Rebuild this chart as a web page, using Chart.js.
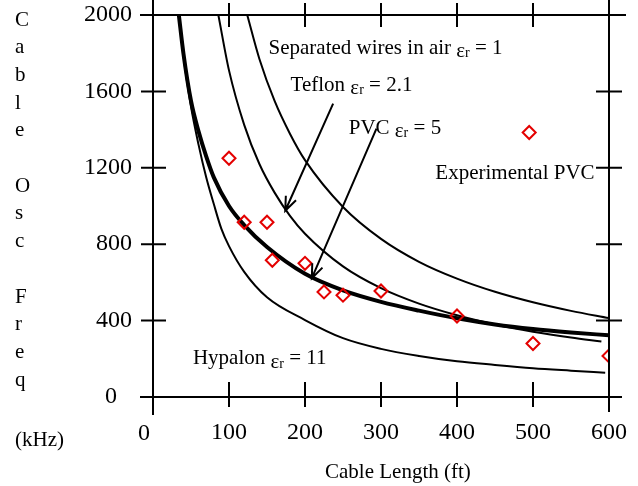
<!DOCTYPE html>
<html>
<head>
<meta charset="utf-8">
<script src="https://cdn.jsdelivr.net/npm/chart.js@4.4.0/dist/chart.umd.min.js"></script>
<style>
  html, body { margin: 0; padding: 0; background: #fff; }
</style>
</head>
<body>
<canvas id="grafico" width="638" height="486"></canvas>
<script>
//..........DADOS..........
var xTicks = [0, 100, 200, 300, 400, 500, 600];
var yTicks = [0, 400, 800, 1200, 1600, 2000];

// Separated wires in air (er = 1)
var arLen  = [124, 140, 160, 180, 200, 250, 300, 350, 400, 450, 500, 550, 600];
var arFreq = [2000, 1770, 1550, 1380, 1240, 995, 828, 708, 620, 551, 496, 451, 413];

// Teflon (er = 2.1)
var teflonLen  = [86, 100, 120, 140, 160, 180, 200, 250, 300, 350, 400, 450, 500, 550, 590];
var teflonFreq = [2000, 1710, 1425, 1220, 1070, 950, 855, 684, 570, 489, 428, 380, 342, 311, 290];

// PVC (er = 5), curva grossa
var pvcLen  = [34, 40, 50, 60, 70, 80, 100, 120, 150, 200, 250, 300, 350, 400, 450, 500, 550, 600];
var pvcFreq = [2000, 1800, 1550, 1390, 1260, 1150, 1000, 900, 785, 645, 558, 498, 452, 412, 380, 356, 338, 323];

// Hypalon (er = 11)
var hypLen  = [34, 40, 50, 60, 70, 80, 90, 100, 120, 150, 200, 250, 300, 350, 400, 450, 500, 550, 595];
var hypFreq = [2000, 1790, 1520, 1320, 1150, 1010, 880, 790, 655, 522, 403, 308, 252, 215, 187, 168, 151, 138, 127];

// Experimental PVC
var expLen  = [100, 120, 150, 157, 200, 225, 250, 300, 400, 500, 600, 495];
var expFreq = [1250, 915, 915, 716, 700, 550, 533, 555, 424, 280, 215, 1385];

var fonte = '"Liberation Serif", "Times New Roman", serif';

function pontos(xs, ys) {
    return xs.map(function(x, i) { return { x: x, y: ys[i] }; });
}

function curva(xs, ys, largura) {
    return {
        data: pontos(xs, ys),
        borderColor: '#000',
        borderWidth: largura,
        pointRadius: 0,
        fill: false,
        cubicInterpolationMode: 'monotone'
    };
}

//..........MOLDURA, SETAS E TEXTOS..........
function rotulo(c, txt, val, x, y) {
    c.textAlign = 'left';
    c.textBaseline = 'alphabetic';
    c.font = '21px ' + fonte;
    c.fillText(txt, x, y);
    x += c.measureText(txt).width;
    c.fillText('\u03b5', x, y + 3.5);
    x += c.measureText('\u03b5').width;
    c.font = '14px ' + fonte;
    c.fillText('r', x, y + 3.5);
    x += c.measureText('r').width;
    c.font = '21px ' + fonte;
    c.fillText(' = ' + val, x, y);
}

function seta(c, x0, y0, x1, y1) {
    var ang = Math.atan2(y1 - y0, x1 - x0);
    var tam = 15, abre = 0.38;
    c.beginPath();
    c.moveTo(x0, y0);
    c.lineTo(x1, y1);
    c.moveTo(x1 - tam * Math.cos(ang - abre), y1 - tam * Math.sin(ang - abre));
    c.lineTo(x1, y1);
    c.lineTo(x1 - tam * Math.cos(ang + abre), y1 - tam * Math.sin(ang + abre));
    c.stroke();
}

var moldura = {
    id: 'moldura',
    afterDraw: function(chart) {
        var c = chart.ctx, xs = chart.scales.x, ys = chart.scales.y;
        var esq = xs.getPixelForValue(0), dir = xs.getPixelForValue(600);
        var topo = ys.getPixelForValue(2000), base = ys.getPixelForValue(0);
        function px(v) { return xs.getPixelForValue(v); }
        function py(v) { return ys.getPixelForValue(v); }

        c.save();
        c.strokeStyle = '#000';
        c.fillStyle = '#000';
        c.lineWidth = 2;
        c.beginPath();
        c.moveTo(esq, 0); c.lineTo(esq, base + 18);
        c.moveTo(dir, 0); c.lineTo(dir, base + 15);
        c.moveTo(esq - 13, topo); c.lineTo(dir + 17, topo);
        c.moveTo(esq - 13, base); c.lineTo(dir + 12, base);
        xTicks.forEach(function(v) {
            var p = px(v);
            c.moveTo(p, base - 15); c.lineTo(p, base + 10);
            c.moveTo(p, topo - 12); c.lineTo(p, topo + 12);
        });
        yTicks.forEach(function(v) {
            var p = py(v);
            c.moveTo(esq - 12, p); c.lineTo(esq + 13, p);
            c.moveTo(dir - 13, p); c.lineTo(dir + 13, p);
        });
        c.stroke();

        // setas
        c.lineWidth = 2;
        seta(c, px(237), py(1536), px(174), py(975));
        seta(c, px(294), py(1405), px(209), py(622));

        // zeros dos eixos
        c.font = '24px ' + fonte;
        c.textAlign = 'center';
        c.textBaseline = 'middle';
        c.fillText('0', esq - 42, base);
        c.fillText('0', esq - 9, 434);

        // textos das curvas
        rotulo(c, 'Separated wires in air ', '1', px(152), py(1797));
        rotulo(c, 'Teflon ', '2.1', px(181), py(1603));
        rotulo(c, 'PVC ', '5', px(257.5), py(1378));
        rotulo(c, 'Hypalon ', '11', px(52.5), py(172));
        c.font = '21px ' + fonte;
        c.textAlign = 'left';
        c.textBaseline = 'alphabetic';
        c.fillText('Experimental PVC', px(371.5), py(1140));

        // titulo do eixo y, uma letra por linha
        var letras = ['C', 'a', 'b', 'l', 'e', '', 'O', 's', 'c', '', 'F', 'r', 'e', 'q'];
        c.textBaseline = 'middle';
        letras.forEach(function(l, i) {
            c.fillText(l, 15, 20 + i * 27.7);
        });
        c.fillText('(kHz)', 15, 440);

        // titulo do eixo x
        c.textBaseline = 'alphabetic';
        c.fillText('Cable Length (ft)', 325, 478);
        c.restore();
    }
};

//..........GRAFICO..........
var marcaExp = {
    data: pontos(expLen, expFreq),
    showLine: false,
    pointStyle: 'rectRot',
    pointRadius: 6.5,
    pointBorderWidth: 2,
    pointBorderColor: 'rgb(228,0,0)',
    pointBackgroundColor: 'rgba(0,0,0,0)'
};

var fonteTicks = { family: fonte, size: 24 };

var ctx = document.getElementById('grafico').getContext('2d');
var grafico = new Chart(ctx, {
    type: 'line',
    data: {
        datasets: [
            marcaExp,
            curva(arLen, arFreq, 2),
            curva(teflonLen, teflonFreq, 2),
            curva(pvcLen, pvcFreq, 4),
            curva(hypLen, hypFreq, 2)
        ]
    },
    options: {
        responsive: false,
        animation: false,
        devicePixelRatio: 1,
        layout: { padding: { top: 15, right: 29, left: 0, bottom: 0 } },
        plugins: { legend: { display: false }, tooltip: { enabled: false } },
        scales: {
            x: {
                type: 'linear',
                min: 0, max: 600,
                border: { display: false },
                grid: { display: false, drawTicks: false },
                ticks: {
                    stepSize: 100, autoSkip: false, maxRotation: 0,
                    padding: 21, color: '#000', font: fonteTicks,
                    callback: function(v) { return v === 0 ? '' : v; }
                },
                afterFit: function(s) {
                    s.height = 89;
                    s.paddingLeft = 0; s.paddingRight = 0;
                }
            },
            y: {
                type: 'linear',
                min: 0, max: 2000,
                border: { display: false },
                grid: { display: false, drawTicks: false },
                ticks: {
                    stepSize: 400, autoSkip: false,
                    padding: 21, color: '#000', font: fonteTicks,
                    callback: function(v) { return v === 0 ? '' : v; }
                },
                afterFit: function(s) {
                    s.width = 153;
                    s.paddingTop = 0; s.paddingBottom = 0;
                }
            }
        }
    },
    plugins: [moldura]
});
</script>
</body>
</html>
